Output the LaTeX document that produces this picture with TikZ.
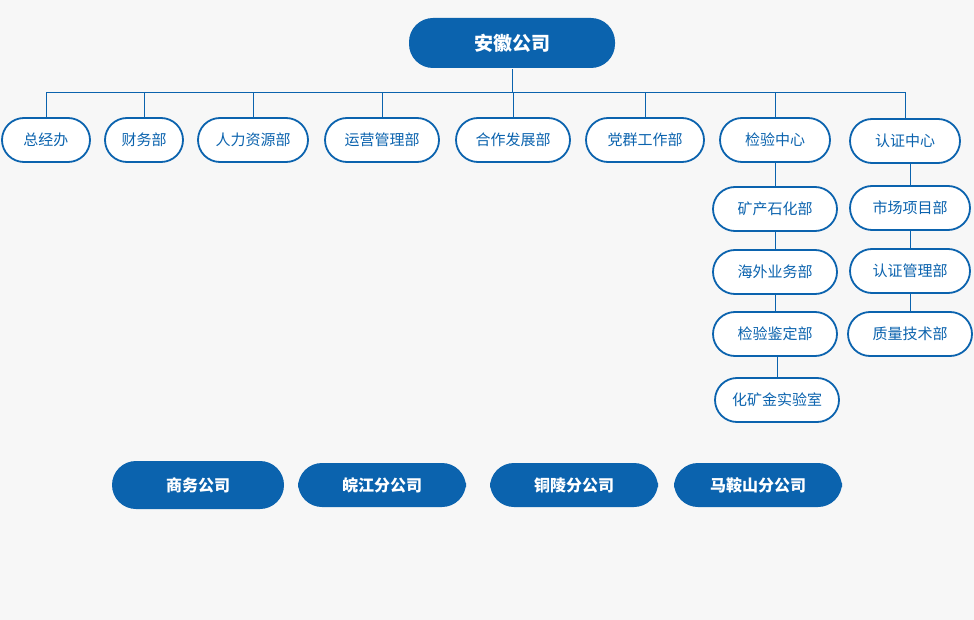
\documentclass[tikz,border=0pt]{standalone}
\usepackage{fontspec}
\newfontfamily\cjk{Noto Sans CJK SC}
\usetikzlibrary{positioning}
\definecolor{orgblue}{HTML}{0B63AE}
\definecolor{pagebg}{HTML}{F7F7F7}
\begin{document}
\begin{tikzpicture}[x=0.5pt, y=-0.5pt, thick,
  dept/.style={draw=orgblue, line width=0.9pt, fill=white, rounded corners=11pt,
    minimum height=22pt, inner sep=0pt, text=orgblue, font=\cjk\fontsize{7.5}{9}\selectfont},
  corp/.style={fill=orgblue, rounded corners=12pt, minimum height=23pt, inner sep=0pt,
    text=white, font=\cjk\bfseries\fontsize{8}{10}\selectfont},
  link/.style={draw=orgblue, line width=0.5pt}]

\fill[pagebg] (0,0) rectangle (974,620);
\useasboundingbox (0,0) rectangle (974,620);

\node[corp, minimum width=103pt, minimum height=25pt, font=\cjk\bfseries\fontsize{9.5}{11}\selectfont] (root) at (512,43) {安徽公司};

\node[dept, minimum width=44pt] (zjb) at (46,140) {总经办};
\node[dept, minimum width=39pt] (cwb) at (144,140) {财务部};
\node[dept, minimum width=55pt] (rlzy) at (253,140) {人力资源部};
\node[dept, minimum width=57pt] (yygl) at (382,140) {运营管理部};
\node[dept, minimum width=57pt] (hzfz) at (513,140) {合作发展部};
\node[dept, minimum width=59pt] (dqgz) at (645,140) {党群工作部};
\node[dept, minimum width=55pt] (jyzx) at (775,140) {检验中心};
\node[dept, minimum width=55pt] (rzzx) at (905,141) {认证中心};

\node[dept, minimum width=62pt] (kcsh) at (775,209) {矿产石化部};
\node[dept, minimum width=62pt] (hwyw) at (775,272) {海外业务部};
\node[dept, minimum width=62pt] (jyjd) at (775,334) {检验鉴定部};
\node[dept, minimum width=62pt] (hksy) at (777,400) {化矿金实验室};

\node[dept, minimum width=60pt] (scxm) at (910,208) {市场项目部};
\node[dept, minimum width=60pt] (rzgl) at (910,271) {认证管理部};
\node[dept, minimum width=62pt] (zljs) at (910,334) {质量技术部};

\node[corp, minimum width=86pt, minimum height=24pt] (swgs) at (198,485) {商务公司};
\node[corp, minimum width=84pt, minimum height=22pt] (wjfg) at (382,485) {皖江分公司};
\node[corp, minimum width=84pt, minimum height=22pt] (tlfg) at (574,485) {铜陵分公司};
\node[corp, minimum width=84pt, minimum height=22pt] (masf) at (758,485) {马鞍山分公司};

% branches from the root
\coordinate (bar) at (512,93);
\begin{scope}[on background layer/.try]
\draw[link] (root.south) -- (bar);
\foreach \d in {zjb,cwb,rlzy,yygl,hzfz,dqgz,jyzx,rzzx}
  \draw[link] (bar) -| (\d.north);
\end{scope}

% columns
\draw[link] (jyzx) -- (kcsh);
\draw[link] (kcsh) -- (hwyw);
\draw[link] (hwyw) -- (jyjd);
\draw[link] (jyjd.south -| hksy.north) -- (hksy.north);
\draw[link] (rzzx.south -| scxm.north) -- (scxm.north);
\draw[link] (scxm) -- (rzgl);
\draw[link] (rzgl) -- (zljs);
\end{tikzpicture}
\end{document}
